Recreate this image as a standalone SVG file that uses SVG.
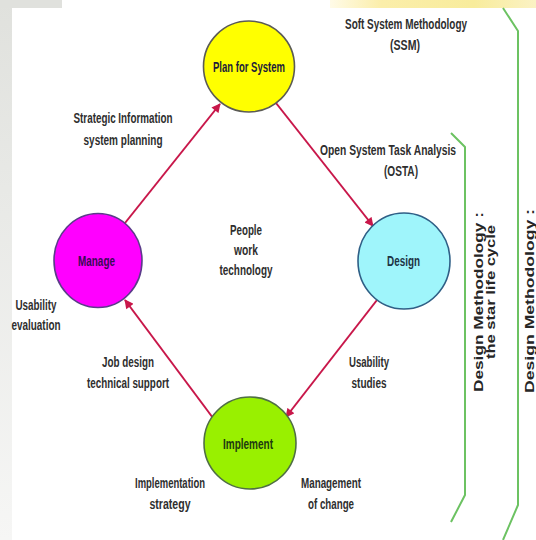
<svg xmlns="http://www.w3.org/2000/svg" width="536" height="540" viewBox="0 0 536 540">
  <defs>
    <linearGradient id="leftFade" x1="0" y1="0" x2="0" y2="1">
      <stop offset="0" stop-color="#e0e1dd"/>
      <stop offset="0.35" stop-color="#e8e9e6"/>
      <stop offset="1" stop-color="#f6f6f5"/>
    </linearGradient>
    <linearGradient id="topYellow" x1="0" y1="0" x2="1" y2="0">
      <stop offset="0" stop-color="#fffbe8"/>
      <stop offset="0.25" stop-color="#fbeeaa"/>
      <stop offset="0.7" stop-color="#f8ec9c"/>
      <stop offset="1" stop-color="#fbf2c4"/>
    </linearGradient>
    <marker id="arrow" viewBox="0 0 10 10" refX="9" refY="5" markerWidth="10" markerHeight="9" markerUnits="userSpaceOnUse" orient="auto">
      <path d="M0,0 L10,5 L0,10 Z" fill="#c8174a"/>
    </marker>
    <style>
      .node-circle { stroke-width: 1.6; }
      .node-label { font-family: "Liberation Sans", Arial, sans-serif; font-weight: bold; font-size: 14.5px; text-anchor: middle; }
      .label { font-family: "Liberation Sans", Arial, sans-serif; font-weight: bold; font-size: 14px; fill: #2e2e2e; text-anchor: middle; }
      .vlabel { font-family: "Liberation Sans", Arial, sans-serif; font-weight: bold; font-size: 12.5px; fill: #262626; text-anchor: middle; }
      .conn { stroke: #c8174a; stroke-width: 2; fill: none; marker-end: url(#arrow); }
      .bracket { stroke: #6cc262; stroke-width: 2; fill: none; stroke-linejoin: round; }
    </style>
  </defs>

  <!-- background -->
  <rect x="0" y="0" width="536" height="540" fill="#ffffff"/>
  <rect x="0" y="0" width="12" height="540" fill="url(#leftFade)"/>
  <rect x="0" y="0" width="62" height="8" fill="#e0e1dd"/>
  <rect x="330" y="0" width="206" height="8" fill="url(#topYellow)"/>

  <!-- connectors -->
  <g id="connectors">
    <line class="conn" x1="125" y1="223" x2="220" y2="104"/>
    <line class="conn" x1="276" y1="103" x2="373" y2="226"/>
    <line class="conn" x1="377" y1="300" x2="286" y2="417"/>
    <line class="conn" x1="213" y1="418" x2="125" y2="300"/>
  </g>

  <!-- nodes -->
  <g id="node-plan">
    <circle class="node-circle" cx="249" cy="66.5" r="45.5" fill="#ffff00" stroke="#5b5b55"/>
    <text class="node-label" x="249" y="72" fill="#1c1c3a" textLength="72" lengthAdjust="spacingAndGlyphs">Plan for System</text>
  </g>
  <g id="node-manage">
    <ellipse class="node-circle" cx="98" cy="260.5" rx="44" ry="47" fill="#ff00ff" stroke="#5b3c8a"/>
    <text class="node-label" x="96.5" y="266" fill="#3a0a55" textLength="37" lengthAdjust="spacingAndGlyphs">Manage</text>
  </g>
  <g id="node-design">
    <ellipse class="node-circle" cx="404" cy="261" rx="46" ry="48" fill="#9ff5fb" stroke="#2f5f86"/>
    <text class="node-label" x="403.5" y="266" fill="#1c3344" textLength="33" lengthAdjust="spacingAndGlyphs">Design</text>
  </g>
  <g id="node-implement">
    <ellipse class="node-circle" cx="250" cy="443" rx="46" ry="46" fill="#99f000" stroke="#4f6f44"/>
    <text class="node-label" x="248" y="448.5" fill="#203a10" textLength="50" lengthAdjust="spacingAndGlyphs">Implement</text>
  </g>

  <!-- labels -->
  <g id="labels">
    <text class="label" x="123" y="123" textLength="99" lengthAdjust="spacingAndGlyphs">Strategic Information</text>
    <text class="label" x="123" y="145" textLength="79" lengthAdjust="spacingAndGlyphs">system planning</text>

    <text class="label" x="406" y="29" textLength="122" lengthAdjust="spacingAndGlyphs">Soft System Methodology</text>
    <text class="label" x="405" y="50" textLength="30" lengthAdjust="spacingAndGlyphs">(SSM)</text>

    <text class="label" x="388" y="155" textLength="136" lengthAdjust="spacingAndGlyphs">Open System Task Analysis</text>
    <text class="label" x="401" y="176" textLength="34" lengthAdjust="spacingAndGlyphs">(OSTA)</text>

    <text class="label" x="246" y="235" textLength="32" lengthAdjust="spacingAndGlyphs">People</text>
    <text class="label" x="246" y="255" textLength="24" lengthAdjust="spacingAndGlyphs">work</text>
    <text class="label" x="246" y="275" textLength="53" lengthAdjust="spacingAndGlyphs">technology</text>

    <text class="label" x="36" y="310" textLength="41" lengthAdjust="spacingAndGlyphs">Usability</text>
    <text class="label" x="36" y="330" textLength="49" lengthAdjust="spacingAndGlyphs">evaluation</text>

    <text class="label" x="128" y="367" textLength="52" lengthAdjust="spacingAndGlyphs">Job design</text>
    <text class="label" x="128" y="388" textLength="82" lengthAdjust="spacingAndGlyphs">technical support</text>

    <text class="label" x="369" y="367" textLength="40" lengthAdjust="spacingAndGlyphs">Usability</text>
    <text class="label" x="369" y="388" textLength="35" lengthAdjust="spacingAndGlyphs">studies</text>

    <text class="label" x="170" y="488" textLength="70" lengthAdjust="spacingAndGlyphs">Implementation</text>
    <text class="label" x="170" y="509" textLength="41" lengthAdjust="spacingAndGlyphs">strategy</text>

    <text class="label" x="331" y="488" textLength="60" lengthAdjust="spacingAndGlyphs">Management</text>
    <text class="label" x="331" y="509" textLength="46" lengthAdjust="spacingAndGlyphs">of change</text>
  </g>

  <!-- brackets -->
  <g id="brackets">
    <path class="bracket" d="M451,133 L465,147 L465,495 L451,522"/>
    <path class="bracket" d="M503,8 L518,31 L518,505 L503,540"/>
  </g>

  <!-- vertical labels -->
  <g id="vertical-labels">
    <text class="vlabel" transform="translate(482.5,302) rotate(-90)" textLength="180" lengthAdjust="spacingAndGlyphs">Design Methodology :</text>
    <text class="vlabel" transform="translate(495,292) rotate(-90)" textLength="134" lengthAdjust="spacingAndGlyphs">the star life cycle</text>
    <text class="vlabel" transform="translate(534,301) rotate(-90)" textLength="184" lengthAdjust="spacingAndGlyphs">Design Methodology :</text>
  </g>
</svg>
